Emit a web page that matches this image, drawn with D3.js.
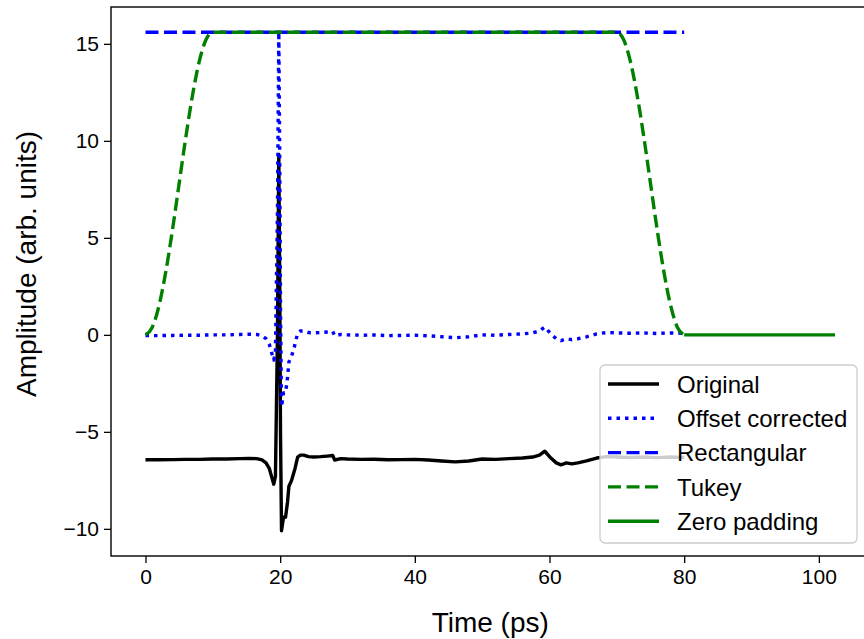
<!DOCTYPE html>
<html>
<head>
<meta charset="utf-8">
<script src="https://cdn.jsdelivr.net/npm/d3@7"></script>
<style>
  html, body { margin: 0; padding: 0; background: #fff; }
  svg { display: block; font-family: "Liberation Sans", Arial, sans-serif; }
</style>
</head>
<body>
<svg id="chart" width="864" height="639"></svg>
<script>
// ---- data ----
const timePs = [0, 2, 4, 6, 8, 10, 12, 14, 15.5, 16.5, 17.3, 17.9, 18.4, 18.8, 19.05, 19.3, 19.6, 19.8, 19.95, 20.05, 20.2, 20.5, 20.8, 21.1, 21.3, 21.7, 22.2, 22.6, 23.0, 23.5, 24.2, 25, 26, 27, 27.8, 28.1, 29, 30, 32, 34, 36, 38, 40, 42, 44, 46, 48, 50, 52, 54, 56, 57.5, 58.5, 59.3, 60.2, 61, 61.7, 62.5, 63.3, 64.2, 65.5, 67, 68.5, 70, 72, 74, 76, 78, 80];
const originalAmp = [-6.44, -6.44, -6.43, -6.42, -6.42, -6.40, -6.40, -6.38, -6.37, -6.38, -6.45, -6.6, -6.9, -7.4, -7.7, -7.3, 0.0, 9.3, 2.0, -5.0, -10.1, -9.4, -9.4, -8.6, -7.8, -7.5, -6.9, -6.3, -6.2, -6.2, -6.28, -6.3, -6.28, -6.25, -6.22, -6.45, -6.38, -6.4, -6.42, -6.41, -6.44, -6.43, -6.42, -6.45, -6.5, -6.55, -6.5, -6.4, -6.42, -6.38, -6.35, -6.3, -6.2, -6.0, -6.35, -6.6, -6.7, -6.6, -6.65, -6.6, -6.5, -6.35, -6.28, -6.3, -6.32, -6.3, -6.33, -6.3, -6.32];
const offsetAmp = [-0.04, -0.04, -0.03, -0.02, -0.02, 0.0, 0.0, 0.02, 0.03, 0.02, -0.05, -0.2, -0.5, -1.0, -1.3, -0.9, 6.4, 15.6, 8.4, 1.4, -3.7, -3.0, -3.0, -2.2, -1.4, -1.1, -0.5, 0.1, 0.2, 0.2, 0.12, 0.1, 0.12, 0.15, 0.18, -0.05, 0.02, 0.0, -0.02, -0.01, -0.04, -0.03, -0.02, -0.05, -0.1, -0.15, -0.1, 0.0, -0.02, 0.02, 0.05, 0.1, 0.2, 0.4, 0.05, -0.2, -0.3, -0.2, -0.25, -0.2, -0.1, 0.05, 0.12, 0.1, 0.08, 0.1, 0.07, 0.1, 0.08];
const rectTime = [0, 80];
const rectAmp = [15.6, 15.6];
const tukeyTime = [0, 1, 2, 3, 4, 5, 6, 7, 8, 9, 10, 70, 71, 72, 73, 74, 75, 76, 77, 78, 79, 80];
const tukeyAmp = [0, 0.38, 1.49, 3.22, 5.39, 7.8, 10.21, 12.38, 14.11, 15.22, 15.6, 15.6, 15.22, 14.11, 12.38, 10.21, 7.8, 5.39, 3.22, 1.49, 0.38, 0];
const zeroTime = [80, 102.4];
const zeroAmp = [0, 0];
const xTicks = [0, 20, 40, 60, 80, 100];
const yTicks = [-10, -5, 0, 5, 10, 15];
const legendLabels = ["Original", "Offset corrected", "Rectangular", "Tukey", "Zero padding"];

// ---- layout ----
const svg = d3.select("#chart");
const L = 111, R = 869.5, T = 7, B = 556;
const x = d3.scaleLinear().domain([-5.12, 107.52]).range([L, R]);
const y = d3.scaleLinear().domain([-11.4, 16.9]).range([B, T]);

const series = [
  { t: timePs, v: originalAmp, color: "#000000", dash: null, curve: d3.curveLinear },
  { t: timePs, v: offsetAmp, color: "#0000ff", dash: "3.5,5", curve: d3.curveLinear },
  { t: rectTime, v: rectAmp, color: "#0000ff", dash: "13,5.5", curve: d3.curveLinear },
  { t: tukeyTime, v: tukeyAmp, color: "#008000", dash: "13,5.5", curve: d3.curveMonotoneX },
  { t: zeroTime, v: zeroAmp, color: "#008000", dash: null, curve: d3.curveLinear }
];

const plot = svg.append("g");
series.forEach(s => {
  const pts = s.t.map((t, i) => [t, s.v[i]]);
  const line = d3.line().x(d => x(d[0])).y(d => y(d[1])).curve(s.curve);
  plot.append("path")
    .attr("d", line(pts))
    .attr("fill", "none")
    .attr("stroke", s.color)
    .attr("stroke-width", 3.4)
    .attr("stroke-linejoin", "round")
    .attr("stroke-linecap", "butt")
    .attr("stroke-dasharray", s.dash);
});

// ---- axes ----
const fontTick = 21;
const xAxis = svg.append("g").attr("transform", `translate(0,${B})`)
  .call(d3.axisBottom(x).tickValues(xTicks).tickSize(7).tickSizeOuter(0).tickPadding(6));
const yAxis = svg.append("g").attr("transform", `translate(${L},0)`)
  .call(d3.axisLeft(y).tickValues(yTicks).tickSize(7).tickSizeOuter(0).tickPadding(5)
    .tickFormat(d => d < 0 ? "\u2212" + Math.abs(d) : String(d)));
[xAxis, yAxis].forEach(g => {
  g.select(".domain").remove();
  g.selectAll(".tick line").attr("stroke", "#000").attr("stroke-width", 1.3);
  g.selectAll(".tick text").attr("fill", "#000").attr("font-size", fontTick)
    .attr("font-family", "'Liberation Sans', Arial, sans-serif");
});

// spines
svg.append("rect").attr("x", L).attr("y", T).attr("width", R - L).attr("height", B - T)
  .attr("fill", "none").attr("stroke", "#000").attr("stroke-width", 1.4);

// axis labels
svg.append("text").attr("x", (L + R) / 2).attr("y", 632)
  .attr("text-anchor", "middle").attr("font-size", 28).attr("fill", "#000")
  .text("Time (ps)");
svg.append("text").attr("transform", `translate(36,264) rotate(-90)`)
  .attr("text-anchor", "middle").attr("font-size", 28).attr("fill", "#000")
  .text("Amplitude (arb. units)");

// ---- legend ----
const lg = svg.append("g");
lg.append("rect").attr("x", 600).attr("y", 365).attr("width", 257).attr("height", 178)
  .attr("rx", 5).attr("fill", "#fff").attr("fill-opacity", 0.8)
  .attr("stroke", "#cccccc").attr("stroke-width", 1.3);
legendLabels.forEach((lab, i) => {
  const cy = 384 + i * 34.3;
  const s = series[i];
  lg.append("line").attr("x1", 608).attr("x2", 659).attr("y1", cy).attr("y2", cy)
    .attr("stroke", s.color).attr("stroke-width", 3.4).attr("stroke-dasharray", s.dash);
  lg.append("text").attr("x", 677).attr("y", cy).attr("dy", "0.36em")
    .attr("font-size", 24).attr("fill", "#000").text(lab);
});
</script>
</body>
</html>
